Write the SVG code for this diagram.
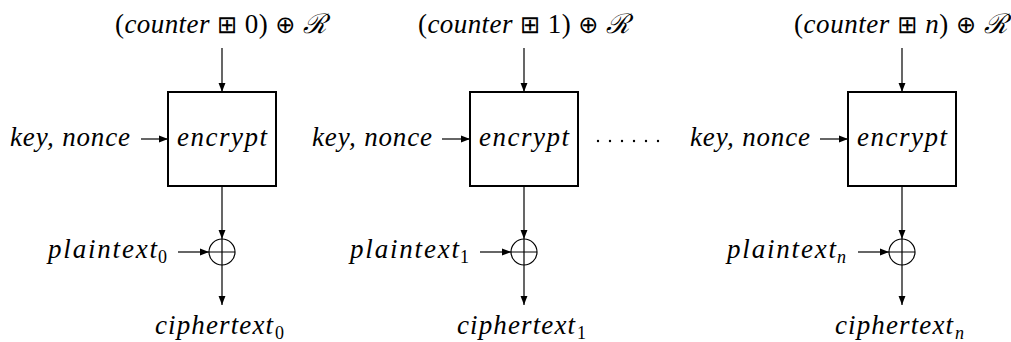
<svg xmlns="http://www.w3.org/2000/svg" width="1011" height="342" viewBox="0 0 1011 342">
<style>
  .t { font-family: "Liberation Serif", "DejaVu Serif", serif; font-size: 27px; fill: #000; }
  .i { font-style: italic; }
  .sym { font-family: "DejaVu Sans", sans-serif; font-size: 24px; font-style: normal; }
  .cal { font-family: "DejaVu Serif", serif; font-style: italic; }
  .sub { font-family: "Liberation Serif", serif; font-size: 18px; fill: #000; }
  .box { fill: #fff; stroke: #000; stroke-width: 2; }
  .ln { fill: none; stroke: #000; stroke-width: 1.2; marker-end: url(#ah); }
  .xor { fill: none; stroke: #000; stroke-width: 1.2; }
</style>
<defs>
  <marker id="ah" viewBox="0 0 10 10" refX="10" refY="5" markerWidth="9" markerHeight="9" markerUnits="userSpaceOnUse" orient="auto">
    <path d="M0,1.2 L10,5 L0,8.8 Z" fill="#000"/>
  </marker>
  <g id="xorsym">
    <circle class="xor" r="13"/>
    <path class="xor" d="M-13,0 H13 M0,-13 V13"/>
  </g>
</defs>
<rect width="1011" height="342" fill="#fff"/>

<g id="connectors">
  <!-- block 0 -->
  <line class="ln" x1="222" y1="48" x2="222" y2="92"/>
  <line class="ln" x1="141" y1="139" x2="168" y2="139"/>
  <line class="ln" x1="222" y1="186" x2="222" y2="239"/>
  <line class="ln" x1="178" y1="252" x2="209" y2="252"/>
  <line class="ln" x1="222" y1="265" x2="222" y2="305"/>
  <!-- block 1 -->
  <line class="ln" x1="524" y1="48" x2="524" y2="92"/>
  <line class="ln" x1="442" y1="139" x2="470" y2="139"/>
  <line class="ln" x1="524" y1="186" x2="524" y2="239"/>
  <line class="ln" x1="480" y1="252" x2="511" y2="252"/>
  <line class="ln" x1="524" y1="265" x2="524" y2="305"/>
  <!-- block n -->
  <line class="ln" x1="902" y1="48" x2="902" y2="92"/>
  <line class="ln" x1="820" y1="139" x2="848" y2="139"/>
  <line class="ln" x1="902" y1="186" x2="902" y2="239"/>
  <line class="ln" x1="858" y1="252" x2="889" y2="252"/>
  <line class="ln" x1="902" y1="265" x2="902" y2="305"/>
</g>

<g id="block0">
  <text class="t" x="115" y="33" textLength="212" lengthAdjust="spacing">(<tspan class="i">counter</tspan> <tspan class="sym">⊞</tspan> 0) <tspan class="sym">⊕</tspan> <tspan class="cal">ℛ</tspan></text>
  <text class="t i" x="10" y="146" textLength="120" lengthAdjust="spacing">key, nonce</text>
  <rect class="box" x="168" y="92" width="108" height="94"/>
  <text class="t i" x="177" y="146" textLength="90" lengthAdjust="spacing">encrypt</text>
  <text class="t i" x="48" y="258" textLength="109" lengthAdjust="spacing">plaintext</text>
  <text class="sub" x="158" y="263">0</text>
  <use href="#xorsym" x="222" y="252"/>
  <text class="t i" x="155" y="334" textLength="118" lengthAdjust="spacing">ciphertext</text>
  <text class="sub" x="275" y="339">0</text>
</g>

<g id="block1">
  <text class="t" x="418" y="33" textLength="212" lengthAdjust="spacing">(<tspan class="i">counter</tspan> <tspan class="sym">⊞</tspan> 1) <tspan class="sym">⊕</tspan> <tspan class="cal">ℛ</tspan></text>
  <text class="t i" x="312" y="146" textLength="120" lengthAdjust="spacing">key, nonce</text>
  <rect class="box" x="470" y="92" width="108" height="94"/>
  <text class="t i" x="479" y="146" textLength="90" lengthAdjust="spacing">encrypt</text>
  <text class="t i" x="350" y="258" textLength="109" lengthAdjust="spacing">plaintext</text>
  <text class="sub" x="460" y="263">1</text>
  <use href="#xorsym" x="524" y="252"/>
  <text class="t i" x="457" y="334" textLength="118" lengthAdjust="spacing">ciphertext</text>
  <text class="sub" x="577" y="339">1</text>
</g>

<g id="dots">
  <circle cx="598" cy="141" r="1.2"/>
  <circle cx="610" cy="141" r="1.2"/>
  <circle cx="622" cy="141" r="1.2"/>
  <circle cx="634" cy="141" r="1.2"/>
  <circle cx="646" cy="141" r="1.2"/>
  <circle cx="658" cy="141" r="1.2"/>
</g>

<g id="blockn">
  <text class="t" x="794" y="33" textLength="214" lengthAdjust="spacing">(<tspan class="i">counter</tspan> <tspan class="sym">⊞</tspan> <tspan class="i">n</tspan>) <tspan class="sym">⊕</tspan> <tspan class="cal">ℛ</tspan></text>
  <text class="t i" x="690" y="146" textLength="120" lengthAdjust="spacing">key, nonce</text>
  <rect class="box" x="848" y="92" width="108" height="94"/>
  <text class="t i" x="857" y="146" textLength="90" lengthAdjust="spacing">encrypt</text>
  <text class="t i" x="727" y="258" textLength="109" lengthAdjust="spacing">plaintext</text>
  <text class="sub i" x="837" y="263">n</text>
  <use href="#xorsym" x="902" y="252"/>
  <text class="t i" x="835" y="334" textLength="118" lengthAdjust="spacing">ciphertext</text>
  <text class="sub i" x="955" y="339">n</text>
</g>
</svg>
